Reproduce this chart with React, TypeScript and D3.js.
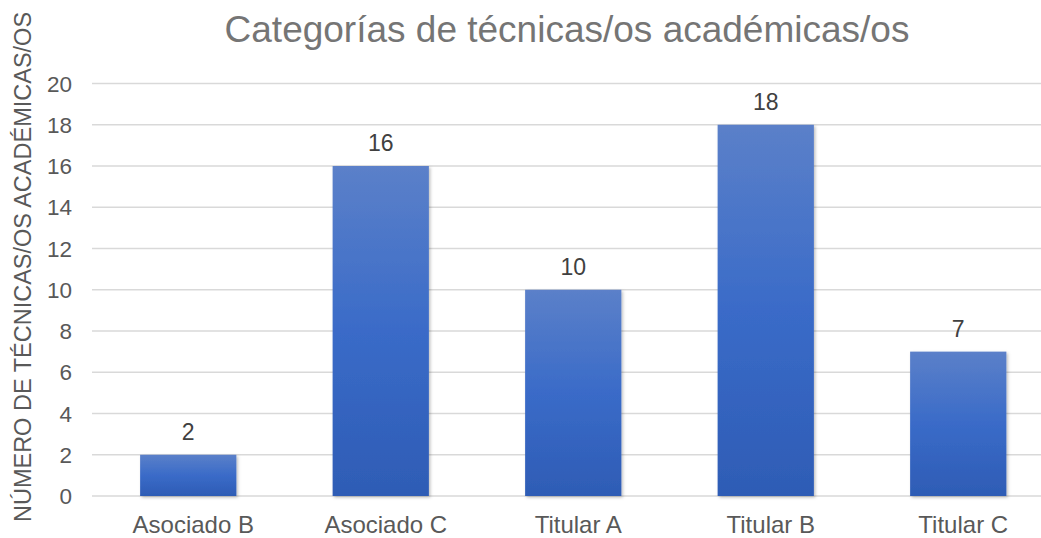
import React from "react";
import * as d3 from "d3";

const categories = ["Asociado B", "Asociado C", "Titular A", "Titular B", "Titular C"];
const values = [2, 16, 10, 18, 7];
const yTicks = [0, 2, 4, 6, 8, 10, 12, 14, 16, 18, 20];
const title = "Categorías de técnicas/os académicas/os";
const yLabel = "NÚMERO DE TÉCNICAS/OS ACADÉMICAS/OS";

export default function App() {
  const W = 1041, H = 538;
  const left = 92, right = 1054.5, top = 83.5, bottom = 496;
  const x = d3.scaleBand<string>().domain(categories).range([left, right]).paddingInner(0.5).paddingOuter(0.25);
  const y = d3.scaleLinear().domain([0, 20]).range([bottom, top]);
  const font = "Arial, 'Liberation Sans', sans-serif";
  return (
    <svg width={W} height={H} style={{ position: "absolute", left: 0, top: 0, background: "#fff" }} fontFamily={font}>
      <defs>
        <linearGradient id="barGrad" x1="0" y1="0" x2="0" y2="1">
          <stop offset="0" stopColor="#5b80c9" />
          <stop offset="0.5" stopColor="#3a6bc8" />
          <stop offset="1" stopColor="#2e5cb5" />
        </linearGradient>
        <filter id="shadow" x="-20%" y="-20%" width="140%" height="140%">
          <feDropShadow dx="1.5" dy="1.5" stdDeviation="1.5" floodColor="#000" floodOpacity="0.25" />
        </filter>
      </defs>
      <rect width={W} height={H} fill="#fff" />
      <text x={567} y={42} textAnchor="middle" fontSize={37} fill="#757575">{title}</text>
      <text transform={`translate(31,${267}) rotate(-90)`} textAnchor="middle" fontSize={23.5} fill="#595959">{yLabel}</text>
      {yTicks.map(t => (
        <g key={t}>
          <line x1={left} x2={W} y1={y(t)} y2={y(t)} stroke="#d9d9d9" strokeWidth={1.5} />
          <text x={72} y={y(t) + 8} textAnchor="end" fontSize={22.5} fill="#595959">{t}</text>
        </g>
      ))}
      {categories.map((c, i) => (
        <g key={c}>
          <rect x={x(c)} y={y(values[i])} width={x.bandwidth()} height={bottom - y(values[i])} fill="url(#barGrad)" filter="url(#shadow)" />
          <text x={(x(c) as number) + x.bandwidth() / 2} y={y(values[i]) - 15} textAnchor="middle" fontSize={23} fill="#404040">{values[i]}</text>
          <text x={(x(c) as number) + x.bandwidth() / 2 + 5} y={533} textAnchor="middle" fontSize={24} fill="#595959">{c}</text>
        </g>
      ))}
    </svg>
  );
}
